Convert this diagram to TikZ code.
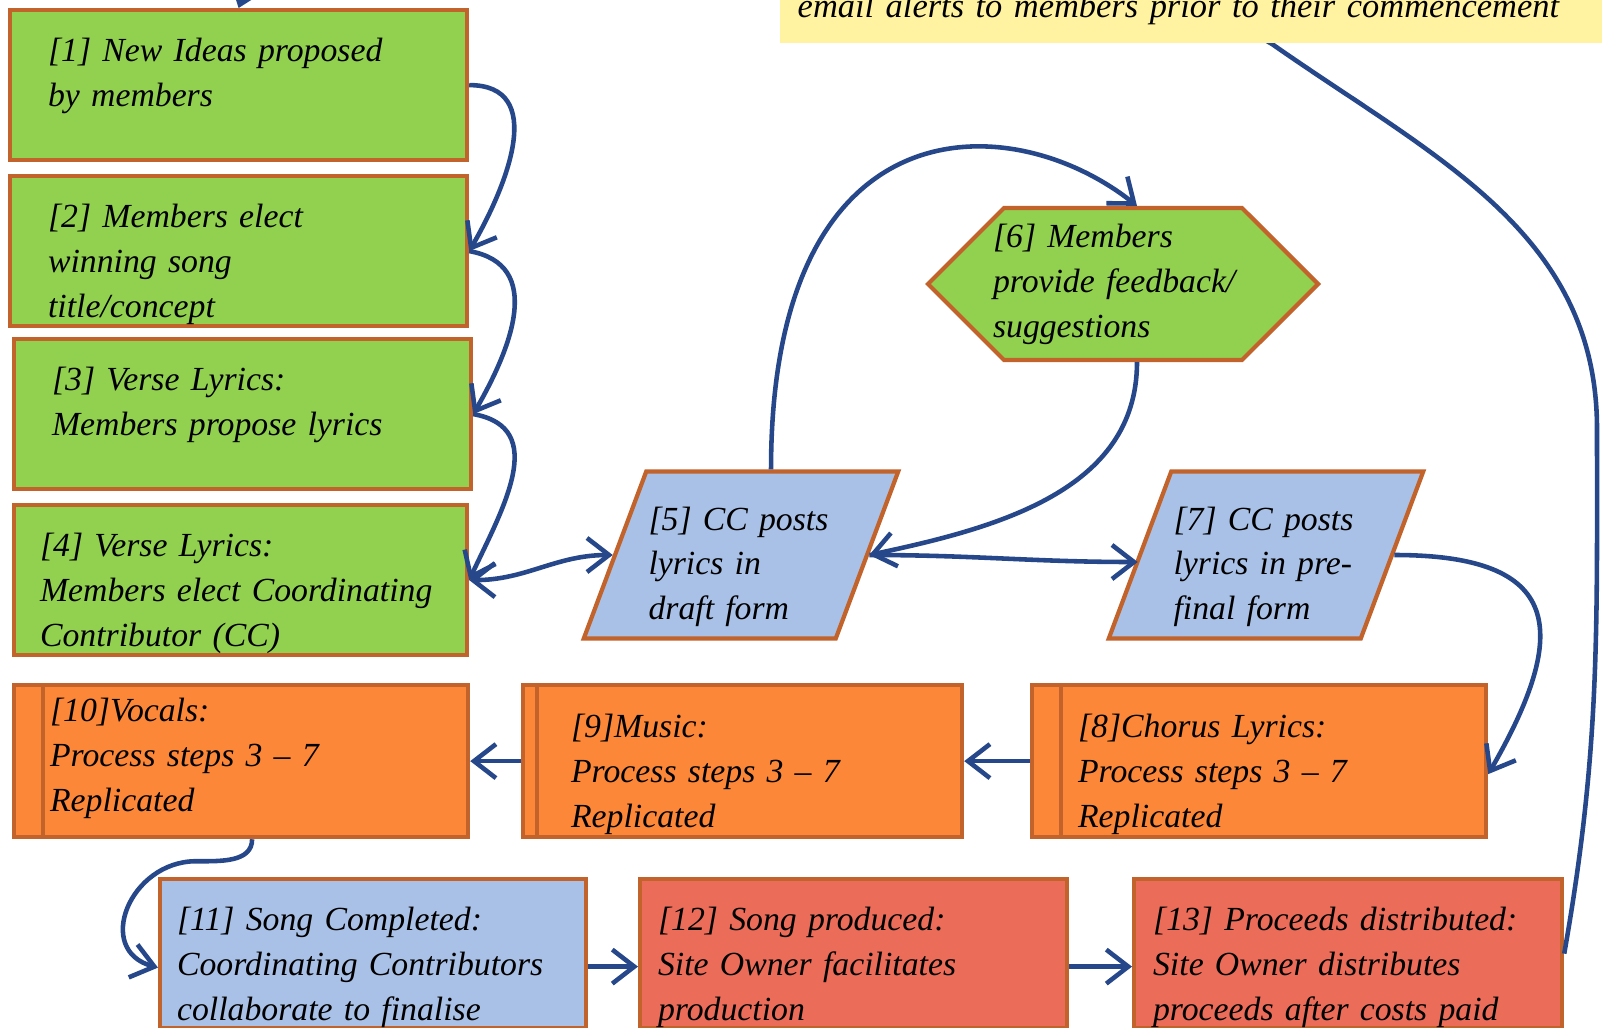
\documentclass[tikz,border=0pt]{standalone}
\usepackage{fontspec}
\setmainfont{Liberation Serif}
\usetikzlibrary{arrows.meta,shapes.geometric,shapes.symbols}
\definecolor{leafgreen}{HTML}{92D050}
\definecolor{skyblue}{HTML}{A9C1E6}
\definecolor{procorange}{HTML}{FD8738}
\definecolor{salmonred}{HTML}{EA6C59}
\definecolor{edgebrown}{HTML}{C1632B}
\definecolor{linkblue}{HTML}{26488A}
\definecolor{notepaper}{HTML}{FFF2A0}
\newcommand\stepfont{\fontsize{9.6}{12.8}\selectfont\itshape}
\begin{document}
\begin{tikzpicture}[>={Straight Barb[length=2.2mm,width=3.4mm]},
  every node/.style={font=\stepfont},
  stepbox/.style={draw=edgebrown,line width=1.2pt,anchor=north west,align=left,
    inner ysep=0pt,text height=0.51cm,text depth=0.99cm},
  greenbox/.style={stepbox,fill=leafgreen,inner xsep=0.38cm,text width=3.81cm},
  procbox/.style={stepbox,fill=procorange,text height=0.52cm,text depth=1cm,
    path picture={\draw[edgebrown,line width=1.2pt]
      ([xshift=#1]path picture bounding box.north west) --
      ([xshift=#1]path picture bounding box.south west);}},
  endbox/.style={stepbox,text depth=0.98cm},
  postbox/.style={trapezium,trapezium left angle=69,trapezium right angle=111,
    trapezium stretches=true,minimum width=3.17cm,minimum height=1.67cm,
    inner xsep=0.03cm,inner ysep=0.1cm,text height=0.47cm,text depth=0.97cm,
    draw=edgebrown,line width=1.2pt,fill=skyblue,text width=1.85cm,align=left},
  link/.style={->,linkblue,line width=1.3pt}]
  \useasboundingbox (0,0) rectangle (16.02,-10.28);
  \clip (0,0) rectangle (16.02,-10.28);

  \node[greenbox] (n1) at (0.08,-0.08) {[1] New Ideas proposed\\by members};
  \node[greenbox] (n2) at (0.08,-1.74) {[2] Members elect\\winning song\\title/concept};
  \node[greenbox] (n3) at (0.12,-3.37) {[3] Verse Lyrics:\\Members propose lyrics};
  \node[greenbox,inner xsep=0.26cm,text width=4.01cm] (n4) at (0.12,-5.03)
    {[4] Verse Lyrics:\\\mbox{Members elect Coordinating}\\Contributor (CC)};

  \node[postbox] (n5) at (7.41,-5.55) {\mbox{[5] CC posts}\\lyrics in\\draft form};
  \node[signal,signal to=west and east,draw=edgebrown,line width=1.2pt,fill=leafgreen,
    minimum height=1.52cm,inner xsep=-0.11cm,text width=2.6cm,align=left]
    (n6) at (11.23,-2.84) {[6] Members\\\mbox{provide feedback/}\\suggestions};
  \node[postbox] (n7) at (12.66,-5.55) {\mbox{[7] CC posts}\\\mbox{lyrics in pre-}\\final form};

  \node[procbox=0.29cm,inner xsep=0.36cm,text width=3.82cm,text height=0.36cm,text depth=1.16cm]
    (n10) at (0.12,-6.83) {[10]Vocals:\\Process steps 3 -- 7\\Replicated};
  \node[procbox=0.14cm,inner xsep=0.48cm,text width=3.43cm]
    (n9) at (5.21,-6.83) {[9]Music:\\Process steps 3 -- 7\\Replicated};
  \node[procbox=0.29cm,inner xsep=0.46cm,text width=3.62cm]
    (n8) at (10.30,-6.83) {[8]Chorus Lyrics:\\Process steps 3 -- 7\\Replicated};

  \node[endbox,fill=skyblue,inner xsep=0.17cm,text width=3.92cm] (n11) at (1.58,-8.77)
    {[11] Song Completed:\\Coordinating Contributors\\collaborate to finalise};
  \node[endbox,fill=salmonred,inner xsep=0.18cm,text width=3.91cm] (n12) at (6.38,-8.77)
    {[12] Song produced:\\Site Owner facilitates\\production};
  \node[endbox,fill=salmonred,inner xsep=0.19cm,text width=3.9cm] (n13) at (11.32,-8.77)
    {[13] Proceeds distributed:\\Site Owner distributes\\proceeds after costs paid};

  \coordinate (rimturn) at (15.97,-4.29);
  \coordinate (noteedge) at (12.72,-0.44);
  \draw[link] (n13.east) to[out=80,in=-90] (rimturn) to[out=90,in=-35] (noteedge)
    to[out=150,in=70] (n1.north);
  \draw[link] (n1.east) to[out=0,in=60,looseness=1.2] (n2.east);
  \draw[link] (n2.east) to[out=-10,in=60,looseness=1.2] (n3.east);
  \draw[link] (n3.east) to[out=-10,in=65,looseness=1.2] (n4.east);
  \draw[link,<->] (n4.east) to[out=0,in=180] (n5.west);
  \draw[link] ([xshift=0.3cm]n5.north) .. controls +(0,3.7) and +(-1.26,1.0) .. ([xshift=0.14cm]n6.north);
  \draw[link] ([xshift=0.14cm]n6.south) to[out=-90,in=12] (n5.east);
  \draw[link] (n5.east) to[out=0,in=180] ([yshift=-0.07cm]n7.west);
  \draw[link] (n7.east) to[out=0,in=60,looseness=1.8] ([yshift=-0.13cm]n8.east);
  \draw[link] (n8.west) -- (n9.east);
  \draw[link] (n9.west) -- (n10.east);
  \draw[link] ([xshift=0.11cm]n10.south) to[out=-90,in=0] ++(-0.56,-0.22)
    to[out=180,in=165,looseness=1.5] ([yshift=-0.14cm]n11.west);
  \draw[link] ([yshift=-0.13cm]n11.east) -- ([yshift=-0.13cm]n12.west);
  \draw[link] ([yshift=-0.13cm]n12.east) -- ([yshift=-0.13cm]n13.west);

  \node[fill=notepaper,anchor=south west,inner xsep=0.18cm,inner ysep=0pt,text width=8.6cm,
    align=left,text height=1cm,text depth=0.26cm,font=\fontsize{9.8}{12.8}\selectfont\itshape]
    (note) at (7.79,-0.44) {email alerts to members prior to their commencement};
\end{tikzpicture}
\end{document}
